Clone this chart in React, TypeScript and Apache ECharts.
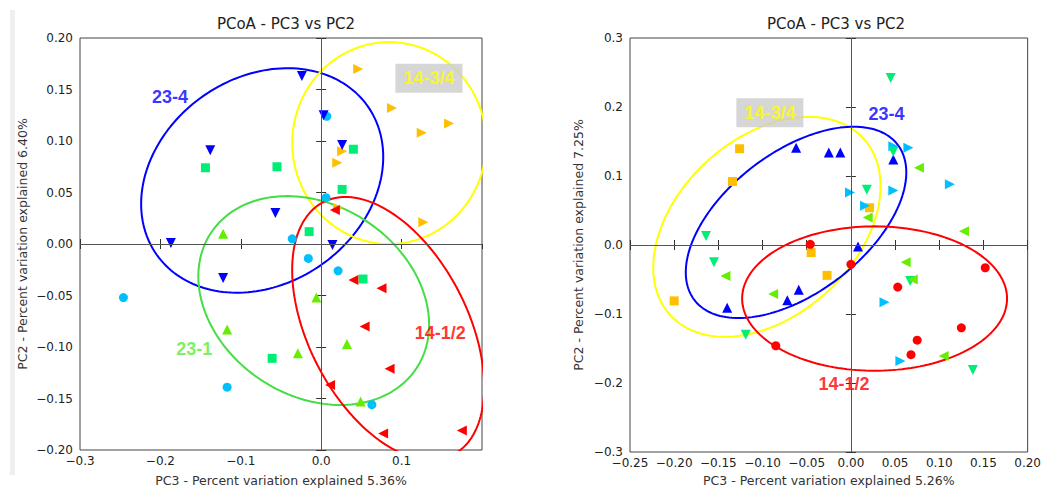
import React, { useEffect, useRef } from "react";
import * as echarts from "echarts";

// ---------- Left panel data (PC3 vs PC2, 5.36% / 6.40%) ----------
const L_blueDown = [[-0.024,0.163],[-0.138,0.091],[-0.187,0.001],[-0.057,0.030],[-0.122,-0.033],[0.026,0.096],[0.003,0.125],[0.014,-0.001]];
const L_greenSq = [[-0.144,0.074],[-0.055,0.075],[0.040,0.092],[0.026,0.053],[-0.015,0.012],[0.052,-0.034],[-0.061,-0.111]];
const L_cyanCirc = [[-0.246,-0.052],[-0.117,-0.139],[0.007,0.124],[0.006,0.045],[-0.036,0.005],[-0.016,-0.014],[0.021,-0.026],[0.063,-0.156]];
const L_orangeRight = [[0.046,0.170],[0.088,0.132],[0.125,0.108],[0.159,0.117],[0.026,0.090],[0.020,0.079],[0.021,0.035],[0.127,0.021]];
const L_redLeft = [[0.017,0.033],[0.040,-0.035],[0.075,-0.043],[0.054,-0.080],[0.085,-0.121],[0.011,-0.137],[0.077,-0.184],[0.175,-0.181]];
const L_limeUp = [[-0.122,0.010],[-0.117,-0.083],[-0.006,-0.052],[-0.029,-0.106],[0.032,-0.097],[0.049,-0.153]];

// ellipses: center, semi-axis vector u, semi-axis vector v
const L_ellipses = [
  { name: "23-4", color: "#0000ff", c: [-0.0734, 0.0617], u: [0.1314, 0.0719], v: [-0.0735, 0.0819] },
  { name: "14-3/4", color: "#ffff00", c: [0.0846, 0.098], u: [0.1206, 0], v: [0, 0.098] },
  { name: "23-1", color: "#44dd44", c: [-0.0093, -0.0549], u: [0.1279, -0.0656], v: [0.0651, 0.0773] },
  { name: "14-1/2", color: "#ff0000", c: [0.0833, -0.082], u: [0.0805, -0.1227], v: [0.0882, 0.0352] },
];
const L_labels = [
  { text: "23-4", color: "#0000ff", pos: [-0.188, 0.1427], box: false },
  { text: "14-3/4", color: "#ffff00", pos: [0.134, 0.161], box: true },
  { text: "23-1", color: "#55ee3a", pos: [-0.158, -0.102], box: false },
  { text: "14-1/2", color: "#ff0000", pos: [0.148, -0.0864], box: false },
];

// ---------- Right panel data (PC3 vs PC2, 5.26% / 7.25%) ----------
const R_orangeSq = [[-0.126,0.1395],[-0.134,0.092],[-0.200,-0.081],[-0.045,-0.011],[-0.027,-0.044],[0.021,0.054]];
const R_redCirc = [[-0.046,0.001],[0.0,-0.028],[0.053,-0.061],[0.152,-0.033],[0.075,-0.138],[0.068,-0.159],[0.125,-0.120],[-0.085,-0.146]];
const R_blueUp = [[-0.062,0.141],[-0.025,0.134],[-0.012,0.134],[0.048,0.124],[-0.140,-0.091],[-0.072,-0.080],[-0.059,-0.065],[0.008,-0.002]];
const R_cyanRight = [[-0.001,0.076],[0.016,0.057],[0.048,0.143],[0.065,0.141],[0.048,0.079],[0.112,0.088],[0.038,-0.083],[0.056,-0.168]];
const R_greenDown = [[0.045,0.242],[0.048,0.135],[0.018,0.080],[-0.164,0.013],[-0.155,-0.025],[-0.119,-0.130],[0.138,-0.181],[0.067,-0.052]];
const R_limeLeft = [[0.077,0.112],[0.019,0.040],[0.128,0.020],[-0.142,-0.045],[-0.088,-0.071],[0.062,-0.025],[0.070,-0.050],[0.105,-0.161]];

const R_ellipses = [
  { name: "14-3/4", color: "#ffff00", c: [-0.0951, 0.0263], u: [0.1099, 0.1272], v: [-0.0668, 0.096] },
  { name: "23-4", color: "#0000ff", c: [-0.0621, 0.0328], u: [0.1153, 0.1121], v: [-0.0477, 0.0816] },
  { name: "14-1/2", color: "#ff0000", c: [0.0268, -0.0776], u: [0.1499, 0], v: [0, 0.1046] },
];
const R_labels = [
  { text: "14-3/4", color: "#ffff00", pos: [-0.0917, 0.1915], box: true },
  { text: "23-4", color: "#0000ff", pos: [0.0403, 0.19], box: false },
  { text: "14-1/2", color: "#ff0000", pos: [-0.0078, -0.201], box: false },
];

const TITLE = "PCoA - PC3 vs PC2";
const L_xName = "PC3 - Percent variation explained 5.36%";
const L_yName = "PC2 - Percent variation explained 6.40%";
const R_xName = "PC3 - Percent variation explained 5.26%";
const R_yName = "PC2 - Percent variation explained 7.25%";

const FONT = "DejaVu Sans";
const LABEL_FONT = "Liberation Sans";

function ellipsePts(c: number[], u: number[], v: number[]) {
  const pts: number[][] = [];
  const n = 180;
  for (let i = 0; i <= n; i++) {
    const t = (i / n) * Math.PI * 2;
    pts.push([c[0] + u[0] * Math.cos(t) + v[0] * Math.sin(t), c[1] + u[1] * Math.cos(t) + v[1] * Math.sin(t)]);
  }
  return pts;
}

const fmt = (d: number) => (val: number) => {
  const s = val.toFixed(d);
  return s.startsWith("-") ? "\u2212" + s.slice(1) : s;
};

export default function App() {
  const ref = useRef<HTMLDivElement>(null);
  useEffect(() => {
    if (!ref.current) return;
    const chart = echarts.init(ref.current, undefined, { renderer: "svg" });

    const tickCommon = { show: true, inside: true, length: 5, lineStyle: { color: "#333", width: 1 } };
    const mkAxesX = (grid: number, min: number, max: number, interval: number, dec: number, name: string, showMax: boolean, gap: number) => [
      {
        gridIndex: grid, type: "value", position: "bottom", min, max, interval,
        axisLine: { show: false }, axisTick: tickCommon, splitLine: { show: false },
        axisLabel: { color: "#222", fontSize: 12, fontFamily: FONT, margin: 5, formatter: fmt(dec), showMaxLabel: showMax, showMinLabel: true },
        name, nameLocation: "middle", nameGap: gap,
        nameTextStyle: { color: "#333", fontSize: 12.5, fontFamily: FONT },
      },
      {
        gridIndex: grid, type: "value", position: "top", min, max, interval,
        axisLine: { show: false }, axisTick: tickCommon, splitLine: { show: false }, axisLabel: { show: false },
      },
    ];
    const mkAxesY = (grid: number, min: number, max: number, interval: number, dec: number, name: string, gap: number) => [
      {
        gridIndex: grid, type: "value", position: "left", min, max, interval,
        axisLine: { show: false }, axisTick: tickCommon, splitLine: { show: false },
        axisLabel: { color: "#222", fontSize: 12, fontFamily: FONT, margin: 7, formatter: fmt(dec), showMaxLabel: true, showMinLabel: true },
        name, nameLocation: "middle", nameGap: gap,
        nameTextStyle: { color: "#333", fontSize: 12.5, fontFamily: FONT },
      },
      {
        gridIndex: grid, type: "value", position: "right", min, max, interval,
        axisLine: { show: false }, axisTick: tickCommon, splitLine: { show: false }, axisLabel: { show: false },
      },
    ];

    const xAxis = [
      ...mkAxesX(0, -0.3, 0.2, 0.1, 1, L_xName, false, 24),
      ...mkAxesX(1, -0.25, 0.2, 0.05, 2, R_xName, true, 22),
    ];
    const yAxis = [
      ...mkAxesY(0, -0.2, 0.2, 0.05, 2, L_yName, 51),
      ...mkAxesY(1, -0.3, 0.3, 0.1, 1, R_yName, 45),
    ];

    const series: any[] = [];
    const ax = (p: number) => ({ xAxisIndex: p * 2, yAxisIndex: p * 2 });

    // zero reference lines
    [0, 1].forEach((p) => {
      series.push({
        type: "scatter", ...ax(p), data: [], z: 1, silent: true,
        markLine: {
          silent: true, symbol: ["none", "none"], label: { show: false }, animation: false,
          lineStyle: { color: "#555", type: "solid", width: 1 },
          data: [{ xAxis: 0 }, { yAxis: 0 }],
        },
      });
    });

    const addEll = (p: number, list: any[]) =>
      list.forEach((e) =>
        series.push({
          type: "line", ...ax(p), data: ellipsePts(e.c, e.u, e.v), showSymbol: false, symbol: "none",
          smooth: false, clip: true, z: 2, silent: true,
          lineStyle: { color: e.color, width: 2 },
        })
      );
    addEll(0, L_ellipses);
    addEll(1, R_ellipses);

    const addPts = (p: number, data: number[][], color: string, symbol: string, rot: number, size: number) =>
      series.push({
        type: "scatter", ...ax(p), data, symbol, symbolRotate: rot, symbolSize: size, z: 3,
        itemStyle: { color, opacity: 1 },
      });

    addPts(0, L_greenSq, "#00ee76", "rect", 0, 9);
    addPts(0, L_cyanCirc, "#00bfff", "circle", 0, 9);
    addPts(0, L_orangeRight, "#ffbf00", "triangle", -90, 10);
    addPts(0, L_redLeft, "#ff0000", "triangle", 90, 10);
    addPts(0, L_limeUp, "#66ee00", "triangle", 0, 10);
    addPts(0, L_blueDown, "#0000ff", "triangle", 180, 10);

    addPts(1, R_orangeSq, "#ffbf00", "rect", 0, 9);
    addPts(1, R_redCirc, "#ff0000", "circle", 0, 9);
    addPts(1, R_blueUp, "#0000ff", "triangle", 0, 10);
    addPts(1, R_cyanRight, "#00bfff", "triangle", -90, 10);
    addPts(1, R_greenDown, "#00ee76", "triangle", 180, 10);
    addPts(1, R_limeLeft, "#66ee00", "triangle", 90, 10);

    const addLabels = (p: number, list: any[]) =>
      list.forEach((l) =>
        series.push({
          type: "scatter", ...ax(p), symbolSize: 0, z: 5, silent: true,
          data: [{ value: l.pos, name: l.text }],
          label: {
            show: true, position: "inside", formatter: l.text, color: l.color,
            fontSize: 18, fontWeight: "bold", fontFamily: LABEL_FONT,
            backgroundColor: l.box ? "#cccccc" : "transparent",
            padding: l.box ? [6, 8, 5, 8] : 0,
          },
        })
      );
    addLabels(0, L_labels);
    addLabels(1, R_labels);

    chart.setOption({
      animation: false,
      backgroundColor: "#ffffff",
      title: [
        { text: TITLE, left: 281, top: 11, textAlign: "center", textStyle: { fontSize: 15, fontWeight: "normal", color: "#222", fontFamily: FONT } },
        { text: TITLE, left: 831, top: 11, textAlign: "center", textStyle: { fontSize: 15, fontWeight: "normal", color: "#222", fontFamily: FONT } },
      ],
      graphic: [
        { type: "rect", shape: { x: 10, y: 10, width: 5, height: 465 }, style: { fill: "#efefef" }, silent: true },
      ],
      grid: [
        { left: 80, top: 38, width: 402, height: 412, show: true, borderColor: "#444", borderWidth: 1, backgroundColor: "#fff" },
        { left: 630, top: 38, width: 402, height: 416, show: true, borderColor: "#444", borderWidth: 1, backgroundColor: "#fff" },
      ],
      xAxis,
      yAxis,
      series,
    });
    return () => chart.dispose();
  }, []);
  return <div ref={ref} style={{ position: "fixed", left: 0, top: 0, width: 1044, height: 492 }} />;
}
